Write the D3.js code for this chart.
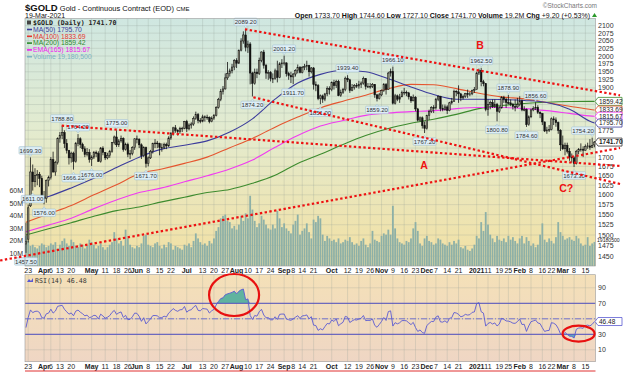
<!DOCTYPE html>
<html lang="en">
<head>
<meta charset="utf-8">
<title>$GOLD daily</title>
<script src="https://cdn.jsdelivr.net/npm/d3@7"></script>
<style>
  body { margin: 0; background: #fff; }
  text { font-family: "Liberation Sans", Arial, sans-serif; }
  .mono { font-family: "DejaVu Sans Mono", monospace; }
</style>
</head>
<body>
<svg id="chart" width="624" height="372"></svg>
<script>
// ---- DATA ----
var holidays = ["2020-04-10","2020-05-25","2020-07-03","2020-09-07","2020-11-26",
                "2020-12-25","2021-01-01","2021-01-18","2021-02-15"];

// daily OHLC, Mar 20 2020 .. Mar 19 2021 (one row per month)
var opens = [
 1478,1490,1572,1660,1634,1650,1654,1643,
 1596,1591,1637,1645,1693,1660,1685,1752,1761,1768,1738,1718,1698,1711,1688,1738,1751,1735,1723,1707,1713,
 1694,1700,1713,1710,1688,1725,1713,1698,1705,1716,1740,1756,1734,1745,1752,1721,1735,1708,1710,1726,
 1751,1750,1734,1704,1726,1683,1698,1716,1738,1739,1737,1726,1727,1735,1731,1753,1766,1782,1775,1771,1780,1781,
 1800,1779,1790,1793,1809,1820,1803,1801,1814,1813,1812,1800,1810,1817,1841,1865,1890,1897,1931,1944,1953,1965,
 1985,1977,2019,2049,2069,2028,2039,1946,1914,1949,1944,1986,2013,1970,1946,1947,1929,1929,1953,1932,1975,
 1978,1978,1944,1938,1934,1943,1954,1964,1948,1964,1966,1970,1950,1962,1910,1907,1868,1876,1866,1882,1898,
 1895,1916,1907,1920,1877,1887,1895,1930,1925,1892,1901,1908,1906,1911,1915,1929,1904,1905,1905,1911,1879,1868,
 1879,1892,1910,1896,1946,1951,1854,1876,1866,1873,1886,1887,1885,1873,1861,1872,1837,1804,1811,1788,
 1780,1818,1830,1841,1840,1866,1874,1838,1836,1843,1832,1855,1859,1890,1888,1882,1870,1874,1883,1880,1882,1893,
 1895,1946,1954,1919,1913,1835,1850,1856,1845,1851,1830,1840,1871,1866,1856,1855,1851,1844,1843,
 1850,1861,1834,1835,1791,1814,1834,1838,1842,1827,1823,1799,1773,1776,1777,1808,1805,1797,1775,
 1734,1723,1733,1716,1700,1698,1683,1716,1721,1722,1719,1729,1731,1727,1733.7
];
var highs = [
 1530,1575,1699.3,1680,1670,1665,1660,1650,
 1610,1640,1650,1700,1715,1690,1755,1770,1788.8,1775,1750,1720,1715,1715,1742,1764.2,1755,1740,1730,1725,1722,
 1705,1717,1718,1716,1728,1730,1714,1712,1720,1742,1760,1775,1750,1760,1755,1740,1740,1720,1730,1752,
 1760,1752,1738,1730,1729,1702,1720,1740,1750,1745,1740,1738,1740,1740,1758,1770,1785,1790,1778,1785,1785,1802,
 1805,1795,1798,1815,1829,1825,1810,1820,1818,1820,1815,1815,1822,1845,1870,1897,1906,1945,1981,1960,1975,1990,
 1993,2021,2058,2081,2089.2,2050,2045,1950,1960,1960,1995,2015,2020,1975,1955,1952,1945,1960,1985,1980,1990,
 2001.2,1980,1950,1950,1946,1958,1973,1968,1968,1975,1985,1972,1965,1965,1920,1912,1880,1880,1885,1905,1905,
 1920,1925,1925,1925,1895,1900,1935,1939.4,1928,1912,1912,1915,1922,1920,1935,1930,1915,1915,1915,1912,1882,1885,
 1895,1915,1915,1950,1960,1966.1,1882,1880,1882,1892,1900,1892,1888,1875,1880,1875,1840,1815,1815,1800,
 1820,1835,1845,1848,1870,1878,1876,1850,1850,1848,1858,1870,1895,1893,1908,1885,1880,1885,1895,1888,1895,1903,
 1950,1960,1962.5,1925,1915,1865,1862,1865,1865,1855,1845,1875,1876,1870,1878.9,1865,1855,1865,1870,
 1875,1865,1845,1838,1818,1838,1845,1856.6,1848,1830,1825,1800,1785,1790,1812,1815,1812,1800,1778,
 1760,1740,1740,1725,1710,1702,1720,1725,1738,1730,1735,1740,1750,1754.2,1744.6
];
var lows = [
 1457.5,1482,1569,1611,1620,1625,1620,1585,
 1576,1580,1622,1640,1658,1650,1680,1740,1750,1725,1710,1680,1685,1666.2,1685,1730,1725,1715,1700,1702,1685,
 1676,1695,1700,1688,1685,1705,1692,1694,1698,1712,1735,1728,1728,1740,1715,1718,1700,1695,1705,1720,
 1738,1725,1695,1700,1671.7,1675,1695,1710,1725,1725,1705,1715,1722,1722,1728,1748,1760,1768,1760,1765,1770,1778,
 1770,1775,1780,1788,1805,1795,1795,1798,1800,1805,1795,1798,1805,1815,1838,1860,1880,1895,1925,1935,1945,1955,
 1962,1975,2015,2040,2015,2010,1911,1874.2,1910,1930,1940,1980,1960,1928,1925,1920,1915,1925,1917,1930,1962,
 1970,1935,1925,1915,1911.7,1935,1945,1945,1945,1955,1955,1935,1945,1895,1890,1863,1851,1855,1860,1875,1880,
 1890,1895,1900,1875,1873,1882,1890,1918,1885,1890,1895,1900,1898,1900,1910,1895,1900,1898,1900,1870,1859.2,1865,
 1875,1888,1880,1895,1935,1850,1850,1860,1855,1872,1878,1875,1865,1855,1860,1830,1800,1800,1780,1767.2,
 1777,1805,1825,1825,1835,1860,1830,1830,1832,1822,1830,1850,1858,1875,1855,1860,1865,1870,1870,1875,1878,1885,
 1895,1940,1905,1905,1830,1817,1836,1840,1840,1800.8,1825,1838,1855,1840,1850,1845,1835,1830,1840,
 1845,1830,1830,1784.6,1788,1810,1830,1834,1822,1810,1790,1770,1765,1770,1775,1790,1785,1765,1717,
 1720,1705,1710,1690,1685,1673.3,1680,1708,1715,1700,1718,1723,1720,1726,1727.1
];
var closes = [
 1484,1567,1660,1634,1651,1654,1643,1596,
 1591,1637,1645,1693,1660,1685,1752,1761,1768,1738,1718,1698,1711,1688,1738,1751,1735,1723,1707,1713,1694,
 1700,1713,1710,1688,1725,1713,1698,1705,1716,1740,1756,1734,1745,1752,1721,1735,1708,1710,1726,1751,
 1750,1734,1704,1726,1683,1698,1716,1738,1739,1737,1726,1727,1735,1731,1753,1766,1782,1775,1771,1780,1781,1800,
 1779,1790,1793,1809,1820,1803,1801,1814,1813,1812,1800,1810,1817,1841,1865,1890,1897,1931,1944,1953,1965,1985,
 1977,2019,2049,2069,2028,2039,1946,1914,1949,1944,1986,2013,1970,1946,1947,1929,1929,1953,1932,1975,1978,
 1978,1944,1938,1934,1943,1954,1964,1948,1964,1966,1970,1950,1962,1910,1907,1868,1876,1866,1882,1898,1895,
 1916,1907,1920,1877,1887,1895,1930,1925,1892,1901,1908,1906,1911,1915,1929,1904,1905,1905,1911,1879,1868,1879,
 1892,1910,1896,1946,1951,1854,1876,1866,1873,1886,1887,1885,1873,1861,1872,1837,1804,1811,1788,1780,
 1818,1830,1841,1840,1866,1874,1838,1836,1843,1832,1855,1859,1890,1888,1882,1870,1874,1883,1880,1882,1893,1895,
 1946,1954,1919,1913,1835,1850,1856,1845,1851,1830,1840,1871,1866,1856,1855,1851,1844,1843,1850,
 1861,1834,1835,1791,1814,1834,1838,1842,1827,1823,1799,1773,1776,1777,1808,1805,1797,1775,1734,
 1723,1733,1716,1700,1698,1683,1716,1721,1722,1719,1729,1731,1727,1732.5,1741.7
];
// volume, millions
var volumes = [
 24,20,16,17,15,14,16,18,
 17,15,16,18,17,19,14,17,20,22,18,16,21,19,16,15,18,17,14,16,21,
 19,17,14,16,18,15,13,15,17,19,27,22,18,20,16,29,22,17,15,14,
 16,15,18,24,25,17,16,15,18,19,16,14,17,15,19,18,13,16,15,14,13,17,
 16,18,15,20,26,22,19,17,18,16,20,18,22,28,31,38,40,41,36,35,30,32,
 29,33,40,36,42,38,56,45,36,31,34,40,37,33,30,29,33,30,44,38,31,
 34,30,28,26,33,36,41,25,28,30,34,27,22,37,35,40,38,25,20,24,22,
 20,21,19,22,18,19,21,20,23,19,17,18,16,20,22,17,15,18,28,21,20,19,
 24,26,25,29,25,48,30,22,19,18,17,20,19,22,30,35,28,18,16,22,
 24,20,19,17,18,22,21,18,17,16,19,17,20,18,21,15,14,16,13,12,14,17,
 24,22,35,28,43,33,25,22,19,24,21,20,22,19,24,21,23,20,18,
 22,24,18,23,20,16,18,15,17,25,34,21,19,22,20,18,23,35,27,
 24,21,22,23,21,20,24,22,18,16,17,23,16,18,19.18
];
// closes before the first bar, only to warm up RSI(14)
var preCloses = [1566,1594,1644,1637,1668,1672,1675,1660,1642,1590,1516,1511,1526,1477,1478];

// moving averages, every 10th bar
var maDays  = [0,10,20,30,40,50,60,70,80,90,100,110,120,130,140,150,160,170,180,190,200,210,220,230,240,250,251];
var ma50    = [1580,1596,1618,1643,1672,1700,1722,1733,1745,1770,1808,1866,1915,1942,1955,1950,1928,1903,1880,1866,1866,1865,1862,1856,1836,1798,1795.70];
var ma100   = [1531,1552,1573,1600,1626,1655,1668,1683,1700,1726,1752,1784,1813,1840,1860,1878,1898,1911,1910,1898,1884,1873,1867,1856,1845,1834.5,1833.69];
var ma200   = [1500,1515,1530,1546,1560,1569,1582,1594,1606,1614,1630,1651,1683,1708,1735,1760,1780,1795,1807,1821,1838,1847,1853,1857,1859,1859.4,1859.42];
var ema165  = [1508,1524,1541,1565,1587,1606,1618,1634,1650,1668,1692,1727,1760,1787,1803,1818,1825,1829,1832,1838,1841,1841,1838,1832,1824,1816,1815.67];

var tickLabels = [
 ["2020-03-23","23"],["2020-04-01","Apr"],["2020-04-06","6"],["2020-04-13","13"],["2020-04-20","20"],
 ["2020-05-01","May"],["2020-05-11","11"],["2020-05-18","18"],["2020-05-26","26"],
 ["2020-06-01","Jun"],["2020-06-08","8"],["2020-06-15","15"],["2020-06-22","22"],
 ["2020-07-01","Jul"],["2020-07-13","13"],["2020-07-20","20"],["2020-07-27","27"],
 ["2020-08-03","Aug"],["2020-08-10","10"],["2020-08-17","17"],["2020-08-24","24"],
 ["2020-09-01","Sep"],["2020-09-08","8"],["2020-09-14","14"],["2020-09-21","21"],
 ["2020-10-01","Oct"],["2020-10-12","12"],["2020-10-19","19"],["2020-10-26","26"],
 ["2020-11-02","Nov"],["2020-11-09","9"],["2020-11-16","16"],["2020-11-23","23"],
 ["2020-12-01","Dec"],["2020-12-07","7"],["2020-12-14","14"],["2020-12-21","21"],
 ["2021-01-04","2021"],["2021-01-11","11"],["2021-01-19","19"],["2021-01-25","25"],
 ["2021-02-01","Feb"],["2021-02-08","8"],["2021-02-16","16"],["2021-02-22","22"],
 ["2021-03-01","Mar"],["2021-03-08","8"],["2021-03-15","15"]
];
var priceTicks = [2100,2075,2050,2025,2000,1975,1950,1925,1900,1875,1850,1825,1800,1775,1750,1725,1700,1675,1650,1625,1600,1575,1550,1525,1500,1475,1450];
var volTicks = [10,20,30,40,50,60];
var rsiTicks = [90,70,50,30,10];

// last values shown in the right-hand tags
var tagValues = [["1859.42",1859.42,"#3d8b2e"],["1833.69",1833.69,"#e5552f"],["1815.67",1815.67,"#f03cf0"],
                 ["1795.70",1795.70,"#3c3c9c"],["1741.70",1741.70,"#333"]];
var rsiLast = 46.48;
var volLast = 19.18;

// price call-outs on swing highs / lows
var callouts = [
 ["2020-03-24","1699.30","h"],["2020-03-25","1611.00","l"],["2020-04-01","1576.00","l"],["2020-03-20","1457.50","l"],
 ["2020-04-14","1788.80","h"],["2020-04-23","1764.20","h"],["2020-04-21","1666.20","l"],["2020-05-01","1676.00","l"],
 ["2020-05-18","1775.00","h"],["2020-06-05","1671.70","l"],["2020-08-07","2089.20","h"],["2020-08-12","1874.20","l"],
 ["2020-09-01","2001.20","h"],["2020-09-08","1911.70","l"],["2020-09-24","1851.00","l"],["2020-10-12","1939.40","h"],
 ["2020-10-29","1859.20","l"],["2020-11-09","1966.10","h"],["2020-11-30","1767.20","l"],["2021-01-06","1962.50","h"],
 ["2021-01-15","1800.80","l"],["2021-01-25","1878.90","h"],["2021-02-04","1784.60","l"],["2021-02-10","1856.60","h"],
 ["2021-03-08","1673.30","l"],["2021-03-18","1754.20","h"]
];
// hand-drawn trend lines: [bar index, price] pairs
var trendLines = [
 [[96.7,2087.9],[262.3,1877.6]],
 [[100.4,1871.7],[262.3,1628.2]],
 [[15.8,1788.2],[262.3,1676.0]],
 [[-11.4,1439.8],[262.3,1725.2]]
];
var waveLabels = [["A",175.8,1678],["B",200.5,2035.8],["C?",238.5,1617.7]];
// circled RSI areas: [bar index, rsi, rx, ry]
var rsiCircles = [[91.9,80.7,25,21],[244,30.8,16,8]];

// ---- CALENDAR ----
var fmt = d3.timeFormat("%Y-%m-%d");
var dates = [];
for (var d = new Date(2020,2,20); d <= new Date(2021,2,19); d.setDate(d.getDate()+1)) {
  var wd = d.getDay(), key = fmt(d);
  if (wd > 0 && wd < 6 && holidays.indexOf(key) < 0) dates.push(key);
}
var N = closes.length;

// ---- LAYOUT ----
var svg = d3.select("#chart");
var pL = 25, pR = 595.5, pT = 18.5, pB = 266;
var rT = 274.7, rB = 361.7;

var x = d3.scaleLinear().domain([0, N-1]).range([25.93, 25.93 + (N-1)*2.265]);
var y = d3.scaleLog().domain([1427.1, 2124.4]).range([pB, pT]);
var yv = d3.scaleLinear().domain([0, 60]).range([pB, pB - 75.24]);
var yr = d3.scaleLinear().domain([-5.35, 106.9]).range([rB, rT]);

var defs = svg.append("defs");
var g1 = defs.append("linearGradient").attr("id","bgMain").attr("x1",0).attr("y1",0).attr("x2",0).attr("y2",1);
g1.append("stop").attr("offset","0%").attr("stop-color","#cfe7e1");
g1.append("stop").attr("offset","45%").attr("stop-color","#e3ebcf");
g1.append("stop").attr("offset","100%").attr("stop-color","#f3e0a2");
var g2 = defs.append("linearGradient").attr("id","bgRsi").attr("x1",0).attr("y1",0).attr("x2",0).attr("y2",1);
g2.append("stop").attr("offset","0%").attr("stop-color","#f4e0b8");
g2.append("stop").attr("offset","100%").attr("stop-color","#efd6c4");
defs.append("clipPath").attr("id","clipMain").append("rect")
  .attr("x",pL).attr("y",pT).attr("width",pR-pL).attr("height",pB-pT);
defs.append("clipPath").attr("id","clipRsi").append("rect")
  .attr("x",pL).attr("y",rT).attr("width",pR-pL).attr("height",rB-rT);

svg.append("rect").attr("x",pL).attr("y",pT).attr("width",pR-pL).attr("height",pB-pT).attr("fill","url(#bgMain)");
svg.append("rect").attr("x",pL).attr("y",rT).attr("width",pR-pL).attr("height",rB-rT).attr("fill","url(#bgRsi)");

var tickIdx = tickLabels.map(function(t){ return { i: dates.indexOf(t[0]), label: t[1] }; });

// grid
var grid = svg.append("g").attr("stroke","#8f9c94").attr("stroke-opacity",0.35).attr("stroke-width",0.7);
priceTicks.forEach(function(p){
  grid.append("line").attr("x1",pL).attr("x2",pR).attr("y1",y(p)).attr("y2",y(p));
});
[10,30,50,70,90].forEach(function(v){
  grid.append("line").attr("x1",pL).attr("x2",pR).attr("y1",yr(v)).attr("y2",yr(v));
});
tickIdx.forEach(function(t){
  grid.append("line").attr("x1",x(t.i)).attr("x2",x(t.i)).attr("y1",pT).attr("y2",pB);
  grid.append("line").attr("x1",x(t.i)).attr("x2",x(t.i)).attr("y1",rT).attr("y2",rB);
});

// volume
var main = svg.append("g").attr("clip-path","url(#clipMain)");
main.append("g").selectAll("rect").data(volumes).enter().append("rect")
  .attr("x", function(v,i){ return x(i) - 0.9; })
  .attr("y", function(v){ return yv(v); })
  .attr("width", 1.8)
  .attr("height", function(v){ return pB - yv(v); })
  .attr("fill","#8db0a7");

// moving averages
var maLine = d3.line()
  .x(function(d){ return x(d[0]); })
  .y(function(d){ return y(d[1]); })
  .curve(d3.curveMonotoneX);
[[ma200,"#3d8b2e"],[ema165,"#f03cf0"],[ma100,"#e5552f"],[ma50,"#3c3c9c"]].forEach(function(m){
  main.append("path")
    .attr("d", maLine(maDays.map(function(dd,k){ return [dd, m[0][k]]; })))
    .attr("fill","none").attr("stroke",m[1]).attr("stroke-width",1.1);
});

// candles
var cg = main.append("g");
cg.selectAll("line").data(closes).enter().append("line")
  .attr("x1", function(c,i){ return x(i); }).attr("x2", function(c,i){ return x(i); })
  .attr("y1", function(c,i){ return y(highs[i]); }).attr("y2", function(c,i){ return y(lows[i]); })
  .attr("stroke","#111").attr("stroke-width",0.8);
cg.selectAll("rect").data(closes).enter().append("rect")
  .attr("x", function(c,i){ return x(i) - 0.8; })
  .attr("width", 1.6)
  .attr("y", function(c,i){ return y(Math.max(c, opens[i])); })
  .attr("height", function(c,i){ return Math.max(0.8, Math.abs(y(c) - y(opens[i]))); })
  .attr("fill", function(c,i){ return c >= opens[i] ? "#8a8a78" : "#111"; })
  .attr("stroke","#111").attr("stroke-width",0.5);

// call-out boxes
callouts.forEach(function(c){
  var i = dates.indexOf(c[0]);
  var isHigh = c[2] === "h";
  var py = isHigh ? y(highs[i]) : y(lows[i]);
  var cy = isHigh ? py - 7 : py + 8.5;
  var cx = x(i);
  var bx = Math.min(cx, pR - 12.5);
  var g = svg.append("g");
  g.append("path")
    .attr("d", isHigh
      ? "M" + (cx-2) + "," + (cy+3.5) + "L" + cx + "," + (cy+6) + "L" + (cx+2) + "," + (cy+3.5) + "Z"
      : "M" + (cx-2) + "," + (cy-3.5) + "L" + cx + "," + (cy-6) + "L" + (cx+2) + "," + (cy-3.5) + "Z")
    .attr("fill","#ddeef6").attr("stroke","#9dbdcc").attr("stroke-width",0.5);
  g.append("rect").attr("x",bx-11.5).attr("y",cy-3.8).attr("width",23).attr("height",7.6).attr("rx",1)
    .attr("fill","#ddeef6").attr("stroke","#9dbdcc").attr("stroke-width",0.5);
  g.append("text").attr("x",bx).attr("y",cy+2.2).attr("text-anchor","middle")
    .attr("font-size",6).attr("fill","#333").text(c[1]);
});

// RSI(14) from closes
var allC = preCloses.concat(closes);
var ag = 0, al = 0, rsi = [];
for (var k = 1; k < allC.length; k++) {
  var ch = allC[k] - allC[k-1], gg = Math.max(ch,0), ll = Math.max(-ch,0);
  if (k <= 14) { ag += gg/14; al += ll/14; }
  else { ag = (ag*13 + gg)/14; al = (al*13 + ll)/14; }
  var bi = k - preCloses.length;
  if (bi >= 0) rsi.push([bi, al === 0 ? 100 : 100 - 100/(1 + ag/al)]);
}
var rg = svg.append("g").attr("clip-path","url(#clipRsi)");
rg.append("path")
  .attr("d", d3.area().x(function(d){ return x(d[0]); }).y0(yr(70))
     .y1(function(d){ return yr(Math.max(70,d[1])); })(rsi))
  .attr("fill","#5fb39f");
rg.append("path")
  .attr("d", d3.area().x(function(d){ return x(d[0]); }).y0(yr(30))
     .y1(function(d){ return yr(Math.min(30,d[1])); })(rsi))
  .attr("fill","#5fa9bf");
[70,30].forEach(function(v){
  rg.append("line").attr("x1",pL).attr("x2",pR).attr("y1",yr(v)).attr("y2",yr(v))
    .attr("stroke","#5050c0").attr("stroke-width",1);
});
rg.append("line").attr("x1",pL).attr("x2",pR).attr("y1",yr(50)).attr("y2",yr(50))
  .attr("stroke","#6a6ad0").attr("stroke-width",0.9).attr("stroke-dasharray","6,2,1,2");
rg.append("path")
  .attr("d", d3.line().x(function(d){ return x(d[0]); }).y(function(d){ return yr(d[1]); })(rsi))
  .attr("fill","none").attr("stroke","#5a5ad2").attr("stroke-width",0.9);

// panel borders
svg.append("rect").attr("x",pL).attr("y",pT).attr("width",pR-pL).attr("height",pB-pT)
  .attr("fill","none").attr("stroke","#9a9a9a").attr("stroke-width",0.6);
svg.append("rect").attr("x",pL).attr("y",rT).attr("width",pR-pL).attr("height",rB-rT)
  .attr("fill","none").attr("stroke","#9a9a9a").attr("stroke-width",0.6);

// axes text (labels hidden behind the value tags are skipped, as in the original)
var tagYs = tagValues.map(function(t){ return y(t[1]); });
var ax = svg.append("g").attr("font-size",7).attr("fill","#333");
priceTicks.forEach(function(p){
  var yy = y(p);
  if (tagYs.some(function(t){ return Math.abs(t - yy) < 7; })) return;
  ax.append("text").attr("x",598).attr("y",yy+2.5).text(p);
});
volTicks.forEach(function(v){
  ax.append("text").attr("x",23).attr("y",yv(v)+2.5).attr("text-anchor","end").text(v + "M");
});
rsiTicks.forEach(function(v){
  if (Math.abs(yr(v) - yr(rsiLast)) < 7) return;
  ax.append("text").attr("x",598).attr("y",yr(v)+2.5).text(v);
});
[273, 368.5].forEach(function(ty){
  tickIdx.forEach(function(t){
    var bold = isNaN(+t.label) || t.label === "2021";
    ax.append("text").attr("x",x(t.i)).attr("y",ty).attr("text-anchor","middle")
      .attr("font-weight", bold ? "bold" : "normal").attr("fill","#222").text(t.label);
  });
});

// right-hand value tags
function tag(yy, txt, col, bold) {
  var g = svg.append("g");
  g.append("path")
    .attr("d","M595," + yy + "L598," + (yy-4) + "L622," + (yy-4) + "L622," + (yy+4) + "L598," + (yy+4) + "Z")
    .attr("fill","#fff").attr("stroke",col).attr("stroke-width",0.8);
  g.append("text").attr("x",599).attr("y",yy+2.4).attr("font-size",6.5)
    .attr("font-weight", bold ? "bold" : "normal").attr("fill","#222").text(txt);
}
tagValues.forEach(function(t, k){ tag(y(t[1]), t[0], t[2], k === tagValues.length - 1); });
tag(yr(rsiLast), "46.48", "#5a5ad2");
svg.append("text").attr("x",597).attr("y",yv(volLast)+0.5).attr("font-size",5.1).attr("fill","#222").text("19180500");

// legend
var lg = svg.append("g");
lg.append("rect").attr("x",27).attr("y",20.5).attr("width",4).attr("height",4).attr("fill","#444");
lg.append("text").attr("class","mono").attr("x",33).attr("y",25).attr("font-size",6.6)
  .attr("font-weight","bold").attr("fill","#222").text("$GOLD (Daily) 1741.70");
[["MA(50) 1795.70","#3c3c9c"],["MA(100) 1833.69","#e5352f"],["MA(200) 1859.42","#2e8a2e"],
 ["EMA(165) 1815.67","#f020f0"],["Volume 19,180,500","#7ab4c4"]].forEach(function(e,k){
  var yy = 31.7 + k*6.8;
  lg.append("rect").attr("x",27).attr("y",yy-3).attr("width",5).attr("height",1.6).attr("fill",e[1]);
  lg.append("text").attr("x",33).attr("y",yy).attr("font-size",6.8).attr("fill",e[1]).text(e[0]);
});
svg.append("path").attr("d","M27,282 L29,279 L31,281 L33,278 L33,282 Z").attr("fill","#5a5ad2");
svg.append("text").attr("class","mono").attr("x",35).attr("y",282.5).attr("font-size",6.6)
  .attr("fill","#333").text("RSI(14) 46.48");

// trend lines and wave labels
trendLines.forEach(function(t){
  svg.append("line")
    .attr("x1",x(t[0][0])).attr("y1",y(t[0][1])).attr("x2",x(t[1][0])).attr("y2",y(t[1][1]))
    .attr("stroke","#ee1111").attr("stroke-width",2.2).attr("stroke-dasharray","2.4,2.4");
});
waveLabels.forEach(function(w){
  svg.append("text").attr("x",x(w[1])).attr("y",y(w[2])+4).attr("text-anchor","middle")
    .attr("font-size",10.5).attr("font-weight","bold").attr("fill","#ee1111").text(w[0]);
});
rsiCircles.forEach(function(c){
  svg.append("ellipse").attr("cx",x(c[0])).attr("cy",yr(c[1])).attr("rx",c[2]).attr("ry",c[3])
    .attr("fill","none").attr("stroke","#e81010").attr("stroke-width",2.2);
});
svg.append("line").attr("x1",pL).attr("x2",pR).attr("y1",371).attr("y2",371)
  .attr("stroke","#e03030").attr("stroke-width",1);

// header
var h1 = svg.append("text").attr("x",25).attr("y",11).attr("fill","#111");
h1.append("tspan").attr("font-size",9.5).attr("font-weight","bold").text("$GOLD");
h1.append("tspan").attr("font-size",7.5).text(" Gold - Continuous Contract (EOD) ");
h1.append("tspan").attr("font-size",6).text("CME");
svg.append("text").attr("x",25).attr("y",17.5).attr("font-size",7).attr("fill","#111").text("19-Mar-2021");
svg.append("text").attr("x",597).attr("y",7.5).attr("text-anchor","end").attr("font-size",6.5)
  .attr("fill","#777").text("\u00a9StockCharts.com");
var h2 = svg.append("text").attr("x",590).attr("y",17.5).attr("text-anchor","end")
  .attr("font-size",7).attr("fill","#111");
[["Open ","1733.70  "],["High ","1744.60  "],["Low ","1727.10  "],["Close ","1741.70  "],
 ["Volume ","19.2M  "],["Chg ","+9.20 (+0.53%)"]].forEach(function(p){
  h2.append("tspan").attr("font-weight","bold").text(p[0]);
  h2.append("tspan").text(p[1]);
});
svg.append("path").attr("d","M592,17 L594.5,13 L597,17 Z").attr("fill","#2a9a2a");
</script>
</body>
</html>
